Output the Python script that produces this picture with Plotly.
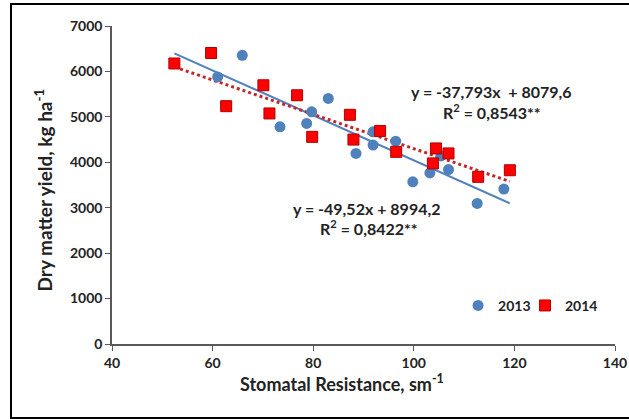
import plotly.graph_objects as go

# 2013 data (circles)
x_2013 = [61.0, 65.9, 73.4, 78.7, 79.7, 83.0, 88.5, 91.9, 91.9, 96.4, 99.8, 103.2, 105.4, 106.9, 112.6, 117.9]
y_2013 = [5880, 6355, 4780, 4855, 5110, 5405, 4195, 4670, 4380, 4465, 3570, 3765, 4140, 3840, 3095, 3410]

# 2014 data (squares)
x_2014 = [52.4, 59.7, 62.7, 70.1, 71.3, 76.8, 79.8, 87.3, 88.0, 93.3, 96.5, 103.8, 104.4, 106.9, 112.8, 119.1]
y_2014 = [6175, 6405, 5235, 5695, 5075, 5475, 4560, 5045, 4500, 4690, 4230, 3975, 4305, 4195, 3680, 3825]

# regression coefficients shown on the chart
slope_2013, icpt_2013 = -49.52, 8994.2
slope_2014, icpt_2014 = -37.793, 8079.6

x_ticks = [40, 60, 80, 100, 120, 140]
y_ticks = [0, 1000, 2000, 3000, 4000, 5000, 6000, 7000]

BLUE = "#4F81BD"
RED = "#FF0000"
FONT = "Lato"
TXT = "#222222"

fig = go.Figure()

# trend lines
lx13 = [52.4, 119.1]
fig.add_trace(go.Scatter(x=lx13, y=[slope_2013 * v + icpt_2013 for v in lx13], mode="lines",
                         line=dict(color=BLUE, width=2), showlegend=False, hoverinfo="skip"))
lx14 = [min(x_2014), max(x_2014)]
fig.add_trace(go.Scatter(x=lx14, y=[slope_2014 * v + icpt_2014 for v in lx14], mode="lines",
                         line=dict(color="#C0282A", width=3, dash="dot"), showlegend=False, hoverinfo="skip"))

fig.add_trace(go.Scatter(x=x_2013, y=y_2013, mode="markers", name="2013", legend="legend",
                         marker=dict(symbol="circle", size=11, color=BLUE, line=dict(width=0))))
fig.add_trace(go.Scatter(x=x_2014, y=y_2014, mode="markers", name="2014", legend="legend2",
                         marker=dict(symbol="square", size=11, color=RED, line=dict(width=1, color="#B00000"))))

leg_common = dict(orientation="h", y=0.12, xanchor="left", yanchor="middle",
                  font=dict(family=FONT, size=14, color=TXT, weight="bold"),
                  bgcolor="rgba(0,0,0,0)", itemwidth=30)

fig.update_layout(
    width=629, height=419,
    margin=dict(l=112, r=14, t=26, b=75, autoexpand=False),
    paper_bgcolor="white", plot_bgcolor="white",
    font=dict(family=FONT, size=13, color=TXT),
    showlegend=True,
    legend=dict(x=0.688, **leg_common),
    legend2=dict(x=0.821, **leg_common),
    xaxis=dict(range=[40, 140], tickvals=x_ticks, ticks="outside", ticklen=5, tickcolor="#595959",
               showline=True, linecolor="#595959", linewidth=1.5, showgrid=False, zeroline=False,
               tickfont=dict(family=FONT, size=14, weight="bold", color=TXT)),
    yaxis=dict(range=[0, 7000], tickvals=y_ticks, ticks="outside", ticklen=5, tickcolor="#595959",
               showline=True, linecolor="#595959", linewidth=1.5, showgrid=False, zeroline=False,
               tickfont=dict(family=FONT, size=14, weight="bold", color=TXT)),
    shapes=[dict(type="rect", xref="paper", yref="paper", x0=-0.2008, x1=1.05, y0=-0.2327, y1=1.069,
                 line=dict(color="black", width=2), fillcolor="rgba(0,0,0,0)", layer="above")],
)

title_font = dict(family=FONT, size=18, color=TXT, weight="bold")
fig.add_annotation(xref="paper", yref="paper", x=0.4576, y=-0.1225, text="Stomatal Resistance, sm<sup>-1</sup>",
                   showarrow=False, font=title_font, xanchor="center", yanchor="middle")
fig.add_annotation(xref="paper", yref="paper", x=-0.1365, y=0.484, text="Dry matter yield, kg ha<sup>-1</sup>",
                   showarrow=False, font=dict(family=FONT, size=19, color=TXT, weight="bold"),
                   textangle=-90, xanchor="center", yanchor="middle")

ann_font = dict(family=FONT, size=16, color=TXT, weight="bold")
fig.add_annotation(x=115.5, y=5549, text="y = -37,793x  + 8079,6", showarrow=False, font=ann_font)
fig.add_annotation(x=115.5, y=5109, text="R<sup>2</sup> = 0,8543**", showarrow=False, font=ann_font)
fig.add_annotation(x=90.6, y=2991, text="y = -49,52x + 8994,2", showarrow=False, font=ann_font)
fig.add_annotation(x=91.1, y=2573, text="R<sup>2</sup> = 0,8422**", showarrow=False, font=ann_font)

fig.write_html("out.html")
